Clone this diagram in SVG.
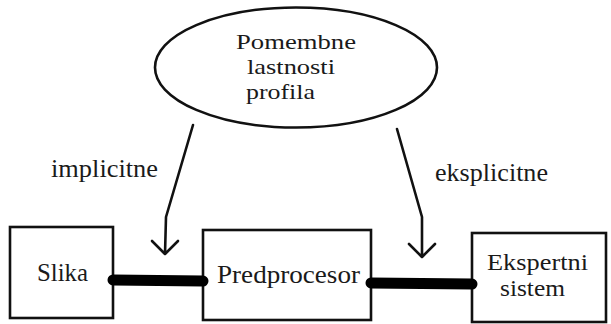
<svg xmlns="http://www.w3.org/2000/svg" width="611" height="324" viewBox="0 0 611 324">
<style>
.t{font-family:"Liberation Serif","DejaVu Serif","Times New Roman",serif;font-size:26px;fill:#1a1a1a}
.e{font-size:22px}
.s{font-size:23px}
.box{fill:#fff;stroke:#111;stroke-width:2.6}
.arr{fill:none;stroke:#111;stroke-width:2.6;stroke-linejoin:round;stroke-linecap:round}
.bus{stroke:#000;stroke-width:11;stroke-linecap:round}
</style>
<rect width="611" height="324" fill="#fff"/>
<g id="profil">
<ellipse cx="296" cy="67.5" rx="141" ry="60" fill="#fff" stroke="#111" stroke-width="2.6"/>
<text class="t e" x="236" y="49" textLength="120" lengthAdjust="spacingAndGlyphs">Pomembne</text>
<text class="t e" x="247" y="74" textLength="88" lengthAdjust="spacingAndGlyphs">lastnosti</text>
<text class="t e" x="246" y="99" textLength="69" lengthAdjust="spacingAndGlyphs">profila</text>
</g>
<g id="slika">
<rect class="box" x="10" y="227" width="103" height="91"/>
<text class="t" x="37" y="281" textLength="51" lengthAdjust="spacingAndGlyphs">Slika</text>
</g>
<g id="predprocesor">
<rect class="box" x="203" y="230" width="168" height="90"/>
<text class="t" x="217" y="283" textLength="143" lengthAdjust="spacingAndGlyphs">Predprocesor</text>
</g>
<g id="ekspertni">
<rect class="box" x="472" y="233" width="134" height="89"/>
<text class="t s" x="487" y="270" textLength="101" lengthAdjust="spacingAndGlyphs">Ekspertni</text>
<text class="t s" x="500" y="296" textLength="65" lengthAdjust="spacingAndGlyphs">sistem</text>
</g>
<g id="connectors">
<line class="bus" x1="113" y1="280" x2="203" y2="281"/>
<line class="bus" x1="371" y1="283" x2="472" y2="284"/>
<path class="arr" d="M193,125 L166,217 L165,254 M152,241 L165,254 L178,241"/>
<path class="arr" d="M397,129 L422,217 L422,257 M409,244 L422,257 L435,244"/>
<text class="t" x="51" y="177" textLength="107" lengthAdjust="spacingAndGlyphs">implicitne</text>
<text class="t" x="435" y="181" textLength="113" lengthAdjust="spacingAndGlyphs">eksplicitne</text>
</g>
</svg>
